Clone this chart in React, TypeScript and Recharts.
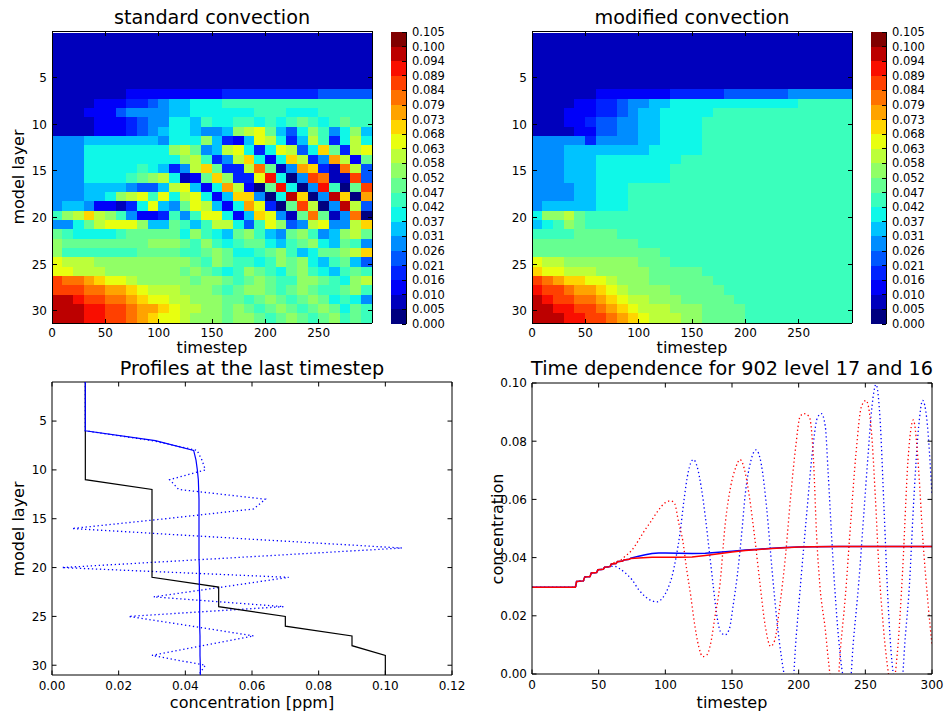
import React from 'react';
import { ComposedChart, BarChart, Bar, Cell, LineChart, Line, XAxis, YAxis, Scatter } from 'recharts';

const FONT = 'DejaVu Sans, Verdana, sans-serif';

// ---------- colour scale (20-level jet) ----------
const JET20 = ['#000080', '#0000bc', '#0000f9', '#0022ff', '#0057ff', '#008dff', '#00c3ff', '#0ff8e8', '#3affbc', '#66ff91',
  '#91ff66', '#bcff3a', '#e8ff0f', '#ffd500', '#ffa300', '#ff7200', '#ff4000', '#f90e00', '#bc0000', '#800000'];

const colorbarLevels = [0, 0.00525, 0.0105, 0.01575, 0.021, 0.02625, 0.0315, 0.03675, 0.042, 0.04725, 0.0525,
  0.05775, 0.063, 0.06825, 0.0735, 0.07875, 0.084, 0.08925, 0.0945, 0.09975, 0.105];
const colorbarLabels = ['0.000', '0.005', '0.010', '0.016', '0.021', '0.026', '0.031', '0.037', '0.042', '0.047', '0.052',
  '0.058', '0.063', '0.068', '0.073', '0.079', '0.084', '0.089', '0.094', '0.100', '0.105'];

// ---------- heatmap data: one string per model layer (1..31), one char per 10-timestep column,
// char = contour level index (0-9, a-j) of the 20-level scale above ----------
const standardRows = [
  '111111111111111111111111111111',
  '111111111111111111111111111111',
  '111111111111111111111111111111',
  '111111111111111111111111111111',
  '111111111111111111111111111111',
  '111111111111111111111111111111',
  '111111122222222233333333344444',
  '111122233456677788888888888888',
  '111222455556677777788877788888',
  '111122234557768778878789878988',
  '11112223456776556abc9647a857a6',
  '55566666665777a6326cb736b837b7',
  '55577777777ab956bc737cb47d93bc',
  '555777777777ab835bd727db35eb29',
  '5557777787635bd933bf915ed31fb4',
  '555777789ab7129da33ch705gf11g4',
  '55566665446bc627eb209h705h809g',
  '555667abc8c7bc726dd507id05id0e',
  '566522137c659cb627ec309gb05ib4',
  '8abdba85223858cc726dc519f915f0',
  '5579bccca669868bb748ca45bc55bd',
  '9877778999997a8769a8659a856ab9',
  'a99999999aaa98a878997689a76985',
  'a88888889999889a97789a86799abd',
  'cbbbaaaaaaaaa98a98878a9a768964',
  'ccbbbaaaaaaa9a9878a9879a876898',
  'gffedccbaaaaa9aa989a988aa987ab',
  'gggffeedcbbbaaa989aa989a9889a8',
  'iihggffedccbbaaa9989a989a97875',
  'iiihhggfeedcbbaa9a989a989a9798',
  'iiihhggfedccbaaa9aa989a989a898',
];

const modifiedRows = [
  '111111111111111111111111111111',
  '111111111111111111111111111111',
  '111111111111111111111111111111',
  '111111111111111111111111111111',
  '111111111111111111111111111111',
  '111111111111111111111111111111',
  '111111222222233333444444555555',
  '111122334556677777777777788888',
  '111222334566777778888888888888',
  '111223445566777788888888888888',
  '111122445566777788888888888888',
  '555553555566777788888888888888',
  '555666666667777788888888888888',
  '555666777777778888888888888888',
  '555666777777788888888888888888',
  '555666777777788888888888888888',
  '555566777888888888888888888888',
  '555566777888888888888888888888',
  '566666777888888888888888888888',
  '7aab98888888888888888888888888',
  '678a98888888888888888888888888',
  '888899998888888888888888888888',
  '999999999988888888888888888888',
  '999999999999888888888888888888',
  'cbbaaaaaaa99988888888888888888',
  'dccbbbaaaaa9999988888888888888',
  'gfeddccbaaa9999998888888888888',
  'hggfeedcbaaaa99999888888888888',
  'ihggffedcbbaaa9999988888888888',
  'iihhggfedcbbbaaa99998888888888',
  'iiihhggfedcbbbaa99998888888888',
];

// ---------- profile data (layer 1..31) ----------
const layers = [1, 2, 3, 4, 5, 6, 7, 8, 9, 10, 11, 12, 13, 14, 15, 16, 17, 18, 19, 20, 21, 22, 23, 24, 25, 26, 27, 28, 29, 30, 31];
const profileInitial = [0.01, 0.01, 0.01, 0.01, 0.01, 0.01, 0.01, 0.01, 0.01, 0.01, 0.01, 0.03, 0.03, 0.03, 0.03, 0.03,
  0.03, 0.03, 0.03, 0.03, 0.03, 0.05, 0.05, 0.05, 0.07, 0.07, 0.09, 0.09, 0.1, 0.1, 0.1];
const profileModified = [0.01, 0.01, 0.01, 0.01, 0.01, 0.01, 0.031, 0.0425, 0.0432, 0.0436, 0.0439, 0.044, 0.0441, 0.0441,
  0.0441, 0.0441, 0.0441, 0.0441, 0.0441, 0.0442, 0.0442, 0.0442, 0.0443, 0.0443, 0.0443, 0.0443, 0.0444, 0.0444, 0.0444, 0.0445, 0.0445];
const profileStandard = [0.01, 0.01, 0.01, 0.01, 0.01, 0.01, 0.03, 0.0435, 0.045, 0.046, 0.0353, 0.038, 0.064, 0.0605, 0.034,
  0.006, 0.055, 0.105, 0.054, 0.003, 0.071, 0.051, 0.0305, 0.0695, 0.023, 0.042, 0.0605, 0.045, 0.03, 0.046, 0.044];

// ---------- time series [timestep, concentration] ----------
const level17Modified = [[0, 0.0298], [32.5, 0.0298], [33.5, 0.0318], [38.5, 0.032], [39.5, 0.0333], [43.5, 0.0335], [44.5, 0.0347],
  [48.5, 0.0349], [49.5, 0.0358], [53.5, 0.036], [54.5, 0.0367], [58.5, 0.0369], [59.5, 0.0378], [63, 0.038], [64, 0.0386],
  [68, 0.0388], [69, 0.0392], [73, 0.0394], [74, 0.0398], [80, 0.0405], [85, 0.041], [90, 0.0414], [95, 0.0416], [100, 0.0416],
  [110, 0.0415], [120, 0.0414], [130, 0.0415], [140, 0.0418], [150, 0.0422], [160, 0.0426], [170, 0.0429], [180, 0.0432],
  [190, 0.0435], [200, 0.0436], [210, 0.0437], [230, 0.0438], [260, 0.0438], [300, 0.0438]];
const level16Modified = [[0, 0.0298], [32.5, 0.0298], [33.5, 0.0318], [38.5, 0.032], [39.5, 0.0333], [43.5, 0.0335], [44.5, 0.0347],
  [48.5, 0.0349], [49.5, 0.0358], [53.5, 0.036], [54.5, 0.0367], [58.5, 0.0369], [59.5, 0.0378], [63, 0.038], [64, 0.0386],
  [68, 0.0388], [69, 0.0392], [73, 0.0394], [74, 0.0397], [80, 0.0399], [90, 0.0401], [100, 0.0401], [110, 0.0401], [120, 0.0402],
  [130, 0.0407], [140, 0.0413], [150, 0.0419], [160, 0.0424], [170, 0.0428], [180, 0.0431], [190, 0.0434], [200, 0.0436],
  [210, 0.0437], [230, 0.0438], [300, 0.0438]];
const level17Standard = [[0, 0.0298], [32.5, 0.0298], [33.5, 0.0318], [38.5, 0.032], [39.5, 0.0333], [43.5, 0.0335], [44.5, 0.0347],
  [48.5, 0.0349], [49.5, 0.0358], [53.5, 0.036], [54.5, 0.0367], [58, 0.0369], [62, 0.037], [65, 0.0364], [70, 0.0347],
  [75, 0.0324], [80, 0.029], [85, 0.0266], [90, 0.0251], [94, 0.0248], [98, 0.0262], [102, 0.0295], [105, 0.0335], [108, 0.04],
  [111, 0.0484], [114, 0.0598], [117, 0.069], [121, 0.0737], [124, 0.071], [127, 0.064], [130, 0.054], [133, 0.042], [136, 0.03],
  [139, 0.019], [142, 0.014], [145, 0.0135], [148, 0.0155], [151, 0.024], [154, 0.034], [157, 0.047], [160, 0.062], [164, 0.073],
  [168, 0.077], [172, 0.072], [176, 0.057], [180, 0.036], [184, 0.017], [187, 0.006], [190, -0.002], [195, -0.006], [198, 0.012],
  [202, 0.034], [206, 0.055], [210, 0.075], [214, 0.088], [217, 0.0895], [220, 0.085], [222, 0.07], [225, 0.045], [227, 0.03],
  [230, 0.012], [233, 0.0], [238, -0.006], [241, 0.011], [245, 0.031], [249, 0.056], [252, 0.075], [255, 0.092], [258, 0.0995],
  [261, 0.088], [264, 0.057], [267, 0.025], [270, 0.004], [273, -0.004], [277, -0.004], [280, 0.013], [283, 0.03], [286, 0.057],
  [290, 0.085], [293, 0.094], [296, 0.088], [300, 0.0615]];
const level16Standard = [[0, 0.0298], [32.5, 0.0298], [33.5, 0.0318], [38.5, 0.032], [39.5, 0.0333], [43.5, 0.0335], [44.5, 0.0347],
  [48.5, 0.0349], [49.5, 0.0358], [53.5, 0.036], [54.5, 0.0367], [58.5, 0.0369], [59.5, 0.0378], [63, 0.0385], [66, 0.039],
  [70, 0.0405], [75, 0.0426], [80, 0.046], [84, 0.049], [89, 0.0523], [95, 0.0564], [100, 0.0589], [104, 0.0595], [107, 0.0585],
  [110, 0.052], [113, 0.046], [116, 0.036], [119, 0.027], [122, 0.017], [125, 0.0095], [128, 0.006], [131, 0.0065], [134, 0.0105],
  [137, 0.019], [141, 0.031], [145, 0.052], [149, 0.0644], [153, 0.0712], [156, 0.0737], [160, 0.069], [163, 0.061], [167, 0.047],
  [171, 0.031], [175, 0.0163], [179, 0.0095], [182, 0.0115], [186, 0.024], [190, 0.04], [194, 0.061], [198, 0.079], [201, 0.0884],
  [204, 0.0895], [208, 0.0884], [211, 0.0746], [213.5, 0.0472], [216, 0.03], [220, 0.0152], [222.5, 0.0038], [225, -0.004],
  [229, -0.004], [231.5, 0.0095], [235, 0.0266], [239, 0.052], [243, 0.0758], [247, 0.0918], [250.5, 0.094], [254.5, 0.0838],
  [257.5, 0.061], [260, 0.038], [263.5, 0.0163], [266, 0.0049], [269, -0.003], [271, -0.003], [274, 0.0072], [278, 0.0358],
  [282, 0.0735], [286, 0.0873], [290, 0.07], [293, 0.0472], [297, 0.0243], [300, 0.01]];

// ---------- ticks ----------
const heatTimeTicks = [0, 50, 100, 150, 200, 250];
const layerTicks = [5, 10, 15, 20, 25, 30];
const concXTicks = [0, 0.02, 0.04, 0.06, 0.08, 0.1, 0.12];
const timeTicks = [0, 50, 100, 150, 200, 250, 300];
const concYTicks = [0, 0.02, 0.04, 0.06, 0.08, 0.1];

const TICK = 4.5;
function tickR(side: string, fmt: ((v: number, i: number) => string) | null, fontSize = 12, labelGap = 15) {
  return (props: any) => {
    const { x, y, payload, index } = props;
    const label = fmt ? fmt(payload.value, index) : null;
    const ts = { fontSize, fontFamily: FONT, fill: '#000' } as any;
    if (side === 'bottom') {
      return (<g><line x1={x} x2={x} y1={y} y2={y - TICK} stroke="#000" />
        {label !== null && <text x={x} y={y + labelGap} textAnchor="middle" {...ts}>{label}</text>}</g>);
    }
    if (side === 'top') return <g><line x1={x} x2={x} y1={y} y2={y + TICK} stroke="#000" /></g>;
    if (side === 'left') {
      return (<g><line x1={x} x2={x + TICK} y1={y} y2={y} stroke="#000" />
        {label !== null && <text x={x - 5} y={y + 4.3} textAnchor="end" {...ts}>{label}</text>}</g>);
    }
    return (<g><line x1={x} x2={x - TICK} y1={y} y2={y} stroke="#000" />
      {label !== null && <text x={x + 6} y={y + 4} textAnchor="start" {...ts}>{label}</text>}</g>);
  };
}
const intFmt = (v: number) => String(v);
const fix2 = (v: number) => v.toFixed(2);

const axisCommon = { tickSize: 0, tickMargin: 0, tickLine: false, axisLine: { stroke: '#000', strokeWidth: 1 }, interval: 0 as any, allowDataOverflow: true };

function Heatmap({ rows, plotX, plotY }: any) {
  const ML = 50, MT = 6, MR = 6, MB = 24, PW = 320, PH = 292;
  const nCols = rows[0].length;
  const colKeys = Array.from({ length: nCols }, (_, c) => 'c' + c);
  // each row: centre of its layer band, and equal column widths (timesteps) stacked across 0..300
  const data = rows.map((row: string, i: number) => {
    const o: any = { yc: layers[i] - 0.2 };
    colKeys.forEach((k) => { o[k] = 300 / row.length; });
    return o;
  });
  const rowPx = PH / 31.3;
  return (
    <div style={{ position: 'absolute', left: plotX - ML, top: plotY - MT, shapeRendering: 'crispEdges' } as any}>
      <ComposedChart layout="vertical" data={data} width={ML + PW + MR} height={MT + PH + MB}
        margin={{ top: 0, right: 0, bottom: 0, left: 0 }} barCategoryGap={0} barGap={0} barSize={rowPx + 0.6}>
        {colKeys.map((k, c) => (
          <Bar key={k} dataKey={k} stackId="s" xAxisId="b" yAxisId="l" isAnimationActive={false} barSize={rowPx + 0.6}>
            {rows.map((row: string, i: number) => {
              const col = JET20[parseInt(row[c], 36)];
              return <Cell key={i} fill={col} stroke={col} strokeWidth={1} />;
            })}
          </Bar>
        ))}
        <XAxis xAxisId="b" type="number" domain={[0, 300]} ticks={heatTimeTicks} orientation="bottom" height={MB} {...axisCommon} tick={tickR('bottom', intFmt, 12, 13.5)} />
        <XAxis xAxisId="t" type="number" domain={[0, 300]} ticks={heatTimeTicks} orientation="top" height={MT} {...axisCommon} tick={tickR('top', null)} />
        <YAxis yAxisId="l" dataKey="yc" type="number" domain={[0, 31.3]} ticks={layerTicks} orientation="left" width={ML} {...axisCommon} tick={tickR('left', intFmt)} />
        <YAxis yAxisId="r" dataKey="yc" type="number" domain={[0, 31.3]} ticks={layerTicks} orientation="right" width={MR} {...axisCommon} tick={tickR('right', null)} />
      </ComposedChart>
    </div>
  );
}

function Colorbar({ x, y }: any) {
  const PW = 15, PH = 292, MT = 8, MB = 8, MR = 50, ML = 2;
  const row: any = { name: 'cb' };
  JET20.forEach((_, i) => { row['l' + i] = colorbarLevels[i + 1] - colorbarLevels[i]; });
  return (
    <div style={{ position: 'absolute', left: x - ML, top: y - MT, shapeRendering: 'crispEdges' } as any}>
      <BarChart data={[row]} width={ML + PW + MR} height={PH + MT + MB} margin={{ top: MT, right: 0, bottom: MB, left: ML }}
        barCategoryGap={0} barGap={0}>
        {JET20.map((c, i) => (
          <Bar key={i} dataKey={'l' + i} stackId="s" xAxisId="x" yAxisId="r" fill={c} stroke="none" isAnimationActive={false} />
        ))}
        <XAxis xAxisId="x" dataKey="name" type="category" orientation="bottom" height={0} tick={false} tickLine={false} axisLine={{ stroke: '#000' }} />
        <XAxis xAxisId="xt" dataKey="name" type="category" orientation="top" height={0} tick={false} tickLine={false} axisLine={{ stroke: '#000' }} />
        <YAxis yAxisId="l" type="number" domain={[0, 0.105]} orientation="left" width={0} tick={false} tickLine={false} axisLine={{ stroke: '#000' }} allowDataOverflow />
        <YAxis yAxisId="r" type="number" domain={[0, 0.105]} ticks={colorbarLevels} orientation="right" width={MR} {...axisCommon}
          tick={tickR('right', (v, i) => colorbarLabels[i], 11.5)} />
      </BarChart>
    </div>
  );
}

function ProfilePanel() {
  const plotX = 52, plotY = 382, PW = 400, PH = 293, ML = 50, MT = 6, MR = 22, MB = 24;
  const mk = (vals: number[]) => layers.map((l, i) => ({ c: vals[i], layer: l }));
  const none = () => <g />;
  return (
    <div style={{ position: 'absolute', left: plotX - ML, top: plotY - MT }}>
      <ComposedChart width={ML + PW + MR} height={MT + PH + MB} margin={{ top: 0, right: 0, bottom: 0, left: 0 }}>
        <XAxis xAxisId="b" dataKey="c" type="number" domain={[0, 0.12]} ticks={concXTicks} orientation="bottom" height={MB} {...axisCommon} tick={tickR('bottom', fix2)} />
        <XAxis xAxisId="t" dataKey="c" type="number" domain={[0, 0.12]} ticks={concXTicks} orientation="top" height={MT} {...axisCommon} tick={tickR('top', null)} />
        <YAxis yAxisId="l" dataKey="layer" type="number" domain={[1, 31]} reversed ticks={layerTicks} orientation="left" width={ML} {...axisCommon} tick={tickR('left', intFmt)} />
        <YAxis yAxisId="r" dataKey="layer" type="number" domain={[1, 31]} reversed ticks={layerTicks} orientation="right" width={MR} {...axisCommon} tick={tickR('right', null)} />
        <Scatter xAxisId="b" yAxisId="l" data={mk(profileStandard)} shape={none} isAnimationActive={false}
          line={{ stroke: '#0000ff', strokeWidth: 1.3, strokeDasharray: '1.3 2.7' }} lineType="joint" />
        <Scatter xAxisId="b" yAxisId="l" data={mk(profileInitial)} shape={none} isAnimationActive={false}
          line={{ stroke: '#000000', strokeWidth: 1.2 }} lineType="joint" />
        <Scatter xAxisId="b" yAxisId="l" data={mk(profileModified)} shape={none} isAnimationActive={false}
          line={{ stroke: '#0000ff', strokeWidth: 1.2 }} lineType="joint" />
      </ComposedChart>
    </div>
  );
}

function TimePanel() {
  const plotX = 532, plotY = 383, PW = 400, PH = 291, ML = 50, MT = 6, MR = 12, MB = 24;
  const pts = (a: number[][]) => a.map(([t, v]) => ({ t, v }));
  return (
    <div style={{ position: 'absolute', left: plotX - ML, top: plotY - MT }}>
      <LineChart width={ML + PW + MR} height={MT + PH + MB} margin={{ top: 0, right: 0, bottom: 0, left: 0 }}>
        <XAxis xAxisId="b" dataKey="t" type="number" domain={[0, 300]} ticks={timeTicks} orientation="bottom" height={MB} {...axisCommon} tick={tickR('bottom', intFmt)} />
        <XAxis xAxisId="t" dataKey="t" type="number" domain={[0, 300]} ticks={timeTicks} orientation="top" height={MT} {...axisCommon} tick={tickR('top', null)} />
        <YAxis yAxisId="l" type="number" domain={[0, 0.1]} ticks={concYTicks} orientation="left" width={ML} {...axisCommon} tick={tickR('left', fix2)} />
        <YAxis yAxisId="r" type="number" domain={[0, 0.1]} ticks={concYTicks} orientation="right" width={MR} {...axisCommon} tick={tickR('right', null)} />
        <Line xAxisId="b" yAxisId="l" data={pts(level17Standard)} dataKey="v" type="monotone" stroke="#0000ff" strokeWidth={1.3} strokeDasharray="1.3 2.7" dot={false} isAnimationActive={false} />
        <Line xAxisId="b" yAxisId="l" data={pts(level16Standard)} dataKey="v" type="monotone" stroke="#ff0000" strokeWidth={1.3} strokeDasharray="1.3 2.7" dot={false} isAnimationActive={false} />
        <Line xAxisId="b" yAxisId="l" data={pts(level17Modified)} dataKey="v" type="linear" stroke="#0000ff" strokeWidth={1.5} dot={false} isAnimationActive={false} />
        <Line xAxisId="b" yAxisId="l" data={pts(level16Modified)} dataKey="v" type="linear" stroke="#ff0000" strokeWidth={1.5} dot={false} isAnimationActive={false} />
      </LineChart>
    </div>
  );
}

function Labels() {
  const t = { fontFamily: FONT, fill: '#000' } as any;
  return (
    <svg width={944} height={715} style={{ position: 'absolute', left: 0, top: 0, pointerEvents: 'none' }}>
      <text x={212} y={24} textAnchor="middle" fontSize={19.2} {...t}>standard convection</text>
      <text x={692} y={24} textAnchor="middle" fontSize={19.2} {...t}>modified convection</text>
      <text x={252} y={375} textAnchor="middle" fontSize={19.2} {...t}>Profiles at the last timestep</text>
      <text x={732} y={375} textAnchor="middle" fontSize={19.2} {...t}>Time dependence for 902 level 17 and 16</text>
      <text x={212} y={353} textAnchor="middle" fontSize={16} {...t}>timestep</text>
      <text x={692} y={353} textAnchor="middle" fontSize={16} {...t}>timestep</text>
      <text x={252} y={708} textAnchor="middle" fontSize={16} {...t}>concentration [ppm]</text>
      <text x={732} y={708} textAnchor="middle" fontSize={16} {...t}>timestep</text>
      <text transform="translate(24,177) rotate(-90)" textAnchor="middle" fontSize={16} {...t}>model layer</text>
      <text transform="translate(24,529) rotate(-90)" textAnchor="middle" fontSize={16} {...t}>model layer</text>
      <text transform="translate(503,529) rotate(-90)" textAnchor="middle" fontSize={16} {...t}>concentration</text>
    </svg>
  );
}

export default function App() {
  return (
    <div style={{ position: 'absolute', left: 0, top: 0, width: 944, height: 715, background: '#fff', overflow: 'hidden' }}>
      <Heatmap rows={standardRows} plotX={52} plotY={31} />
      <Colorbar x={391} y={32} />
      <Heatmap rows={modifiedRows} plotX={532} plotY={31} />
      <Colorbar x={871} y={32} />
      <ProfilePanel />
      <TimePanel />
      <Labels />
    </div>
  );
}
